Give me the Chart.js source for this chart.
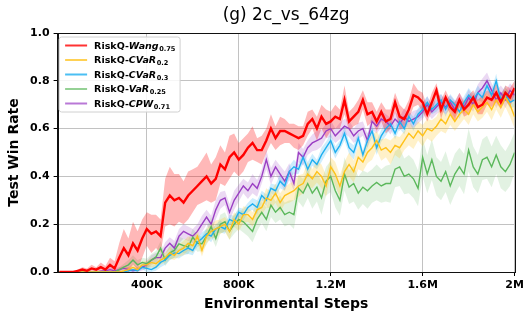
<!DOCTYPE html>
<html><head><meta charset="utf-8">
<script src="https://cdn.jsdelivr.net/npm/chart.js@4.4.1/dist/chart.umd.min.js"></script>
<style>html,body{margin:0;padding:0;background:#fff;}canvas{display:block;}</style>
</head><body>
<canvas id="c" width="531" height="318"></canvas>
<script>
const steps = [20000,40000,60000,80000,100000,120000,140000,160000,180000,200000,
220000,240000,260000,280000,300000,320000,340000,360000,380000,400000,
420000,440000,460000,480000,500000,520000,540000,560000,580000,600000,
620000,640000,660000,680000,700000,720000,740000,760000,780000,800000,
820000,840000,860000,880000,900000,920000,940000,960000,980000,1000000,
1020000,1040000,1060000,1080000,1100000,1120000,1140000,1160000,1180000,1200000,
1220000,1240000,1260000,1280000,1300000,1320000,1340000,1360000,1380000,1400000,
1420000,1440000,1460000,1480000,1500000,1520000,1540000,1560000,1580000,1600000,
1620000,1640000,1660000,1680000,1700000,1720000,1740000,1760000,1780000,1800000,
1820000,1840000,1860000,1880000,1900000,1920000,1940000,1960000,1980000,2000000];

const xTickValues = [400000, 800000, 1200000, 1600000, 2000000];
const xTickLabels = ['400K', '800K', '1.2M', '1.6M', '2M'];
const yTickValues = [0, 0.2, 0.4, 0.6, 0.8, 1.0];

const legendPrefix = 'RiskQ-';
const legendNames = ['Wang', 'CVaR', 'CVaR', 'VaR', 'CPW'];
const legendParams = ['0.75', '0.2', '0.3', '0.25', '0.71'];

const wangMean = [0.00,0.00,0.00,0.00,0.005,0.01,0.005,0.015,0.01,0.02,
0.01,0.03,0.015,0.06,0.10,0.07,0.12,0.09,0.14,0.18,
0.16,0.17,0.15,0.29,0.32,0.30,0.31,0.29,0.32,0.34,
0.36,0.38,0.40,0.37,0.39,0.45,0.43,0.48,0.50,0.47,
0.49,0.52,0.54,0.51,0.51,0.55,0.60,0.56,0.59,0.59,
0.58,0.57,0.56,0.57,0.62,0.64,0.60,0.65,0.62,0.63,
0.65,0.64,0.72,0.63,0.65,0.67,0.72,0.66,0.67,0.63,
0.67,0.63,0.64,0.71,0.65,0.64,0.68,0.74,0.73,0.71,
0.66,0.71,0.76,0.68,0.73,0.69,0.67,0.72,0.68,0.70,
0.73,0.69,0.70,0.73,0.72,0.75,0.71,0.75,0.73,0.77];
const wangSpread = [0,0,0,0,0.005,0.01,0.01,0.015,0.01,0.02,
0.015,0.03,0.03,0.06,0.08,0.07,0.09,0.08,0.08,0.07,
0.08,0.07,0.07,0.10,0.12,0.11,0.10,0.09,0.10,0.09,
0.08,0.09,0.10,0.08,0.09,0.08,0.07,0.09,0.08,0.07,
0.07,0.06,0.07,0.05,0.06,0.05,0.06,0.05,0.06,0.05,
0.04,0.05,0.05,0.04,0.05,0.04,0.05,0.05,0.06,0.04,
0.05,0.04,0.06,0.04,0.04,0.05,0.04,0.05,0.04,0.04,
0.04,0.05,0.04,0.04,0.05,0.04,0.04,0.05,0.03,0.04,
0.03,0.04,0.03,0.04,0.03,0.03,0.04,0.03,0.03,0.04,
0.03,0.03,0.04,0.03,0.03,0.04,0.03,0.03,0.04,0.03];

const cvar02Mean = [0,0,0,0,0,0,0,0,0,0,
0,0,0,0,0.005,0.01,0.02,0.01,0.03,0.03,
0.04,0.035,0.05,0.06,0.08,0.07,0.09,0.10,0.12,0.11,
0.15,0.09,0.15,0.17,0.18,0.19,0.20,0.17,0.22,0.20,
0.24,0.24,0.22,0.26,0.27,0.31,0.30,0.33,0.29,0.32,
0.33,0.34,0.36,0.37,0.41,0.39,0.42,0.40,0.36,0.44,
0.41,0.36,0.42,0.45,0.42,0.48,0.46,0.50,0.52,0.55,
0.51,0.52,0.50,0.53,0.52,0.55,0.58,0.56,0.59,0.57,
0.60,0.59,0.61,0.64,0.62,0.66,0.63,0.66,0.68,0.66,
0.70,0.67,0.69,0.71,0.68,0.72,0.69,0.73,0.70,0.65];
const cvar02Spread = [0,0,0,0,0,0,0,0,0,0,
0,0,0,0,0.005,0.01,0.01,0.01,0.015,0.015,
0.02,0.02,0.02,0.02,0.025,0.02,0.025,0.03,0.03,0.03,
0.03,0.025,0.03,0.03,0.035,0.03,0.03,0.035,0.03,0.03,
0.035,0.03,0.03,0.035,0.03,0.04,0.035,0.04,0.04,0.035,
0.04,0.04,0.045,0.04,0.05,0.04,0.045,0.05,0.045,0.04,
0.05,0.045,0.04,0.05,0.045,0.05,0.04,0.045,0.05,0.04,
0.045,0.04,0.05,0.04,0.045,0.04,0.05,0.045,0.04,0.045,
0.04,0.045,0.04,0.05,0.04,0.045,0.04,0.045,0.04,0.045,
0.04,0.04,0.045,0.04,0.045,0.04,0.045,0.04,0.05,0.05];

const cvar03Mean = [0,0,0,0,0,0,0,0,0,0,
0,0,0,0,0,0.005,0.01,0.005,0.02,0.015,
0.01,0.02,0.04,0.05,0.07,0.08,0.077,0.09,0.10,0.09,
0.125,0.14,0.16,0.15,0.18,0.19,0.18,0.22,0.21,0.25,
0.24,0.27,0.285,0.27,0.32,0.30,0.35,0.34,0.38,0.36,
0.42,0.44,0.43,0.48,0.43,0.47,0.45,0.49,0.52,0.55,
0.50,0.53,0.58,0.52,0.50,0.56,0.49,0.55,0.59,0.52,
0.57,0.60,0.62,0.58,0.63,0.60,0.65,0.62,0.66,0.68,
0.71,0.68,0.70,0.72,0.68,0.72,0.70,0.67,0.71,0.74,
0.72,0.75,0.73,0.78,0.74,0.80,0.72,0.75,0.71,0.72];
const cvar03Spread = [0,0,0,0,0,0,0,0,0,0,
0,0,0,0,0,0.005,0.01,0.01,0.01,0.015,
0.015,0.015,0.02,0.02,0.02,0.02,0.02,0.02,0.025,0.02,
0.02,0.025,0.02,0.025,0.02,0.025,0.02,0.02,0.025,0.02,
0.025,0.02,0.025,0.03,0.02,0.025,0.02,0.025,0.03,0.02,
0.025,0.03,0.02,0.025,0.03,0.025,0.02,0.03,0.025,0.03,
0.025,0.02,0.03,0.025,0.03,0.025,0.02,0.03,0.025,0.03,
0.025,0.03,0.02,0.025,0.03,0.025,0.02,0.03,0.025,0.03,
0.025,0.02,0.03,0.025,0.03,0.025,0.02,0.03,0.025,0.03,
0.025,0.03,0.02,0.03,0.025,0.03,0.025,0.03,0.025,0.03];

const var025Mean = [0,0,0,0,0,0,0,0,0,0,
0,0,0,0.01,0.02,0.03,0.05,0.03,0.04,0.035,
0.05,0.063,0.10,0.05,0.08,0.09,0.118,0.11,0.104,0.146,
0.12,0.118,0.15,0.19,0.14,0.20,0.21,0.17,0.20,0.22,
0.21,0.19,0.17,0.22,0.25,0.22,0.28,0.25,0.27,0.24,
0.25,0.24,0.35,0.33,0.37,0.33,0.355,0.31,0.38,0.40,
0.34,0.30,0.41,0.355,0.37,0.33,0.355,0.34,0.36,0.375,
0.36,0.37,0.37,0.43,0.44,0.40,0.41,0.39,0.35,0.48,
0.41,0.47,0.40,0.38,0.42,0.36,0.41,0.44,0.41,0.51,
0.44,0.41,0.47,0.48,0.44,0.49,0.44,0.42,0.45,0.50];
const var025Spread = [0,0,0,0,0,0,0,0,0,0,
0,0,0,0.01,0.015,0.02,0.02,0.02,0.02,0.02,
0.025,0.025,0.03,0.025,0.03,0.03,0.03,0.03,0.03,0.035,
0.035,0.03,0.035,0.04,0.035,0.04,0.04,0.035,0.04,0.04,
0.045,0.04,0.045,0.05,0.045,0.05,0.05,0.045,0.05,0.05,
0.05,0.06,0.055,0.06,0.06,0.065,0.06,0.07,0.06,0.065,
0.07,0.065,0.07,0.07,0.075,0.07,0.07,0.075,0.07,0.075,
0.07,0.075,0.08,0.075,0.08,0.075,0.08,0.08,0.075,0.08,
0.08,0.085,0.08,0.08,0.085,0.08,0.085,0.08,0.085,0.09,
0.085,0.08,0.085,0.09,0.085,0.08,0.09,0.085,0.09,0.085];

const cpwMean = [0,0,0,0,0,0,0,0,0,0.003,
0.005,0.01,0.005,0.01,0.015,0.01,0.005,0.01,0.02,0.03,
0.05,0.06,0.06,0.10,0.12,0.10,0.15,0.17,0.16,0.15,
0.17,0.20,0.23,0.20,0.26,0.30,0.31,0.25,0.30,0.33,
0.36,0.34,0.37,0.35,0.40,0.47,0.40,0.44,0.41,0.38,
0.42,0.37,0.50,0.48,0.52,0.54,0.55,0.56,0.59,0.60,
0.57,0.59,0.61,0.60,0.57,0.59,0.60,0.55,0.63,0.61,
0.64,0.63,0.61,0.64,0.62,0.65,0.63,0.64,0.65,0.67,
0.70,0.67,0.69,0.71,0.69,0.71,0.68,0.72,0.69,0.73,
0.70,0.75,0.77,0.80,0.76,0.72,0.75,0.72,0.76,0.74];
const cpwSpread = [0,0,0,0,0,0,0,0,0,0.005,
0.005,0.01,0.01,0.01,0.01,0.01,0.01,0.01,0.015,0.015,
0.02,0.02,0.02,0.025,0.025,0.03,0.03,0.03,0.03,0.03,
0.03,0.035,0.03,0.035,0.04,0.035,0.03,0.035,0.04,0.035,
0.03,0.035,0.04,0.035,0.03,0.04,0.035,0.03,0.035,0.04,
0.035,0.03,0.04,0.035,0.03,0.035,0.04,0.035,0.03,0.035,
0.03,0.035,0.03,0.035,0.03,0.035,0.03,0.03,0.035,0.03,
0.035,0.03,0.035,0.03,0.03,0.035,0.03,0.035,0.03,0.03,
0.035,0.03,0.03,0.035,0.03,0.03,0.035,0.03,0.03,0.035,
0.03,0.035,0.04,0.035,0.03,0.035,0.03,0.035,0.03,0.03];

const seriesMeans = [wangMean, cvar02Mean, cvar03Mean, var025Mean, cpwMean];
const seriesSpreads = [wangSpread, cvar02Spread, cvar03Spread, var025Spread, cpwSpread];
const lineColors = ['#ff0000', '#ffc21a', '#1eaff0', '#5cb85c', '#9b3fc4'];
const handleColors = ['rgba(255,0,0,0.8)', 'rgba(255,194,26,0.75)', 'rgba(30,175,240,0.8)', 'rgba(92,184,92,0.65)', 'rgba(155,63,196,0.7)'];
const bandColors = ['rgba(255,0,0,0.28)', 'rgba(255,200,40,0.25)', 'rgba(30,175,240,0.22)', 'rgba(92,184,92,0.18)', 'rgba(155,63,196,0.2)'];
const lineWidths = [2.4, 1.4, 1.4, 1.4, 1.4];

const datasets = [];
seriesMeans.forEach((m, k) => {
  datasets.push({
    label: legendPrefix + legendNames[k] + legendParams[k],
    data: steps.map((x, j) => ({x: x, y: m[j]})),
    borderColor: lineColors[k], borderWidth: lineWidths[k],
    pointRadius: 0, fill: false, order: k, tension: 0
  });
});
seriesMeans.forEach((m, k) => {
  const s = seriesSpreads[k];
  datasets.push({
    label: 'band-up-' + k,
    data: steps.map((x, j) => ({x: x, y: Math.min(1, m[j] + s[j])})),
    borderWidth: 0, borderColor: 'rgba(0,0,0,0)', pointRadius: 0,
    fill: '+1', backgroundColor: bandColors[k], order: 100
  });
  datasets.push({
    label: 'band-lo-' + k,
    data: steps.map((x, j) => ({x: x, y: Math.max(0, m[j] - s[j])})),
    borderWidth: 0, borderColor: 'rgba(0,0,0,0)', pointRadius: 0,
    fill: false, order: 100
  });
});

const framePlugin = {
  id: 'frame',
  afterDatasetsDraw(chart) {
    const a = chart.chartArea, ctx = chart.ctx;
    ctx.save();
    ctx.strokeStyle = '#111';
    ctx.lineWidth = 1;
    ctx.strokeRect(Math.round(a.left) + 0.5, Math.round(a.top) + 0.5,
      Math.round(a.right) - Math.round(a.left), Math.round(a.bottom) - Math.round(a.top));
    ctx.restore();
  }
};

const legendPlugin = {
  id: 'mlegend',
  afterDraw(chart) {
    const a = chart.chartArea, ctx = chart.ctx;
    const x0 = a.left + 1.5, y0 = a.top + 4, w = 121, h = 75, r = 2.5;
    ctx.save();
    ctx.beginPath();
    ctx.moveTo(x0 + r, y0);
    ctx.lineTo(x0 + w - r, y0); ctx.arcTo(x0 + w, y0, x0 + w, y0 + r, r);
    ctx.lineTo(x0 + w, y0 + h - r); ctx.arcTo(x0 + w, y0 + h, x0 + w - r, y0 + h, r);
    ctx.lineTo(x0 + r, y0 + h); ctx.arcTo(x0, y0 + h, x0, y0 + h - r, r);
    ctx.lineTo(x0, y0 + r); ctx.arcTo(x0, y0, x0 + r, y0, r);
    ctx.closePath();
    ctx.fillStyle = 'rgba(255,255,255,0.85)';
    ctx.fill();
    ctx.strokeStyle = '#d0d0d0';
    ctx.lineWidth = 1;
    ctx.stroke();
    ctx.textBaseline = 'alphabetic';
    ctx.textAlign = 'left';
    for (let k = 0; k < legendNames.length; k++) {
      const cy = y0 + 8.5 + k * 14.5;
      ctx.beginPath();
      ctx.moveTo(x0 + 6, cy); ctx.lineTo(x0 + 28, cy);
      ctx.strokeStyle = handleColors[k];
      ctx.lineWidth = 2;
      ctx.stroke();
      const tx = x0 + 35, by = cy + 3.4;
      ctx.fillStyle = '#000';
      ctx.font = 'bold 9.5px "DejaVu Sans"';
      ctx.fillText(legendPrefix, tx, by);
      const w1 = ctx.measureText(legendPrefix).width;
      ctx.font = 'italic bold 9.5px "DejaVu Sans"';
      ctx.fillText(legendNames[k], tx + w1, by);
      const w2 = ctx.measureText(legendNames[k]).width;
      ctx.font = 'bold 6.6px "DejaVu Sans"';
      ctx.fillText(legendParams[k], tx + w1 + w2 + 0.5, by + 2);
    }
    ctx.restore();
  }
};

Chart.defaults.font.family = '"DejaVu Sans"';
Chart.defaults.color = '#000';

new Chart(document.getElementById('c'), {
  type: 'line',
  data: {datasets: datasets},
  plugins: [framePlugin, legendPlugin],
  options: {
    responsive: false,
    animation: false,
    devicePixelRatio: 1,
    layout: {padding: {left: 0, right: 16.4, top: 0, bottom: 0}},
    plugins: {
      legend: {display: false},
      tooltip: {enabled: false},
      filler: {drawTime: 'beforeDatasetsDraw'},
      title: {
        display: true, text: '(g) 2c_vs_64zg', fullSize: false,
        font: {size: 17, weight: 'normal', family: '"DejaVu Sans"'},
        color: '#000', padding: {top: 5.5, bottom: 7.1}
      }
    },
    scales: {
      x: {
        type: 'linear', min: 12000, max: 2000000,
        afterBuildTicks: (s) => { s.ticks = xTickValues.map(v => ({value: v})); },
        afterFit: (s) => { s.height = 46; },
        ticks: {
          callback: (v) => xTickLabels[xTickValues.indexOf(v)],
          font: {size: 11, weight: 'bold'}, color: '#000',
          maxRotation: 0, autoSkip: false, padding: 3
        },
        grid: {color: '#c2c2c2', lineWidth: 1, tickLength: 4, tickColor: '#000', tickWidth: 1},
        border: {color: '#111', width: 1},
        title: {
          display: true, text: 'Environmental Steps',
          font: {size: 14, weight: 'bold'}, color: '#000',
          padding: {top: 0, bottom: 5.6}
        }
      },
      y: {
        min: 0, max: 1,
        afterBuildTicks: (s) => { s.ticks = yTickValues.map(v => ({value: v})); },
        afterFit: (s) => { s.width = 57.6; },
        ticks: {
          callback: (v) => v.toFixed(1),
          font: {size: 11, weight: 'bold'}, color: '#000', padding: 4
        },
        grid: {color: '#c2c2c2', lineWidth: 1, tickLength: 4, tickColor: '#000', tickWidth: 1},
        border: {color: '#111', width: 1},
        title: {
          display: true, text: 'Test Win Rate',
          font: {size: 14, weight: 'bold'}, color: '#000',
          padding: {top: 5.5, bottom: 0}
        }
      }
    }
  }
});
</script>
</body></html>
